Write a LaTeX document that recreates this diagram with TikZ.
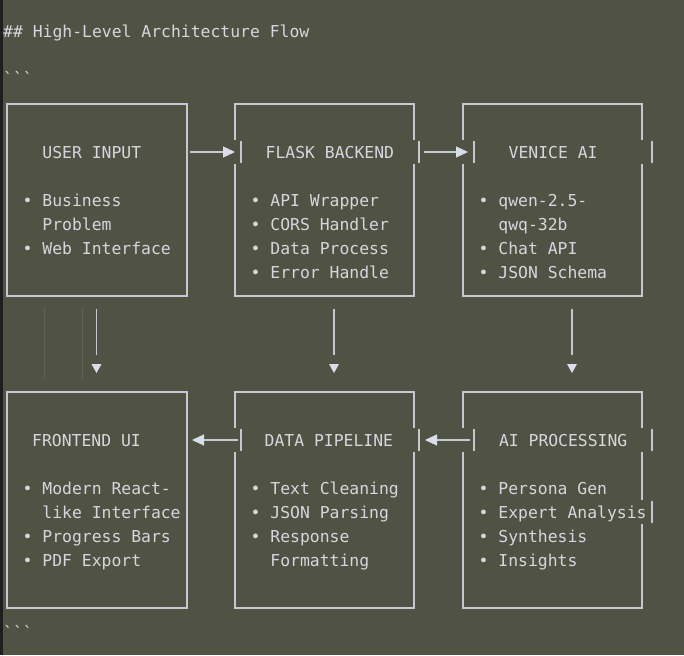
\documentclass[tikz,border=0pt]{standalone}
\usepackage{fontspec}
\setmonofont{DejaVu Sans Mono}
\usetikzlibrary{arrows.meta}
\definecolor{bg}{RGB}{80,82,67}
\definecolor{ink}{RGB}{212,215,222}
\definecolor{rule}{RGB}{196,200,211}
\definecolor{tip}{RGB}{218,222,234}
\definecolor{guide}{RGB}{96,98,84}
\definecolor{gutter}{RGB}{30,30,30}

\begin{document}
\begin{tikzpicture}[x=1pt,y=-1pt,
	txt/.style={anchor=base west,inner sep=0pt,text=ink,font=\ttfamily\fontsize{16.4}{24}\selectfont},
	wire/.style={draw=rule,line width=1.1pt},
	flow/.style={draw=rule,line width=1.1pt,-{Triangle[length=12pt,width=11pt,color=tip]}}]
	\useasboundingbox (0,0) rectangle (684,655);
	\fill[bg] (0,0) rectangle (684,655);
	\fill[gutter] (0,0) rectangle (3,655);

	\node[txt] (head) at (3,38) {\#\# High-Level Architecture Flow};
	\node[txt] (open) at (3,85) {\symbol{96}\symbol{96}\symbol{96}};
	\node[txt] (close) at (3,638) {\symbol{96}\symbol{96}\symbol{96}};

	% top row
	\draw[wire] (7,104) rectangle (187,296);
	\draw[wire] (235,140)--(235,104)--(414,104)--(414,140) (235,164)--(235,296)--(414,296)--(414,164) (241,141)--(241,163) (419,141)--(419,163);
	\draw[wire] (463,140)--(463,104)--(642,104)--(642,140) (463,164)--(463,296)--(642,296)--(642,164) (474,141)--(474,163) (652,141)--(652,163);

	\node[txt] (user) at (42.2,158) {USER INPUT};
	\node[txt] (u1) at (22.5,206) {• Business};
	\node[txt] (u2) at (42.2,230) {Problem};
	\node[txt] (u3) at (22.5,254) {• Web Interface};

	\node[txt] (flask) at (265.5,158) {FLASK BACKEND};
	\node[txt] (f1) at (250.5,206) {• API Wrapper};
	\node[txt] (f2) at (250.5,230) {• CORS Handler};
	\node[txt] (f3) at (250.5,254) {• Data Process};
	\node[txt] (f4) at (250.5,278) {• Error Handle};

	\node[txt] (venice) at (508.5,158) {VENICE AI};
	\node[txt] (v1) at (478.5,206) {• qwen-2.5-};
	\node[txt] (v2) at (498.2,230) {qwq-32b};
	\node[txt] (v3) at (478.5,254) {• Chat API};
	\node[txt] (v4) at (478.5,278) {• JSON Schema};

	% bottom row
	\draw[wire] (7,392) rectangle (187,608);
	\draw[wire] (235,428)--(235,392)--(414,392)--(414,428) (235,452)--(235,608)--(414,608)--(414,452) (241,429)--(241,451) (419,429)--(419,451);
	\draw[wire] (463,428)--(463,392)--(642,392)--(642,428) (463,452)--(463,608)--(642,608)--(642,524) (642,500)--(642,452) (474,429)--(474,451) (652,429)--(652,451) (652,501)--(652,523);

	\node[txt] (front) at (32,446) {FRONTEND UI};
	\node[txt] (p1) at (22.5,494) {• Modern React-};
	\node[txt] (p2) at (42.2,518) {like Interface};
	\node[txt] (p3) at (22.5,542) {• Progress Bars};
	\node[txt] (p4) at (22.5,566) {• PDF Export};

	\node[txt] (pipe) at (264.5,446) {DATA PIPELINE};
	\node[txt] (d1) at (250.5,494) {• Text Cleaning};
	\node[txt] (d2) at (250.5,518) {• JSON Parsing};
	\node[txt] (d3) at (250.5,542) {• Response};
	\node[txt] (d4) at (270.2,566) {Formatting};

	\node[txt] (aiproc) at (498.8,446) {AI PROCESSING};
	\node[txt] (a1) at (478.5,494) {• Persona Gen};
	\node[txt] (a2) at (478.5,518) {• Expert Analysis};
	\node[txt] (a3) at (478.5,542) {• Synthesis};
	\node[txt] (a4) at (478.5,566) {• Insights};

	% arrow ends
	\coordinate (UF) at (190,152);  \coordinate (FU) at (235,152);
	\coordinate (FV) at (424,152);  \coordinate (VF) at (468,152);
	\coordinate (DP) at (238,440);  \coordinate (PD) at (192,440);
	\coordinate (AD) at (470,440);  \coordinate (DA) at (425,440);
	\coordinate (U) at (96.5,309);  \coordinate (P) at (96.5,373);
	\coordinate (F) at (334,309);   \coordinate (D) at (334,373);
	\coordinate (V) at (572,309);   \coordinate (A) at (572,373);

	\draw[flow] (UF)--(FU);
	\draw[flow] (FV)--(VF);
	\draw[flow] (DP)--(PD);
	\draw[flow] (AD)--(DA);
	% down arrows: stem, gap, then head
	\draw[wire] (U)--([yshift=18pt]P) (F)--([yshift=18pt]D) (V)--([yshift=18pt]A);
	\fill[tip] (P)--++(-5,-9)--++(10,0)--cycle (D)--++(-5,-9)--++(10,0)--cycle (A)--++(-5,-9)--++(10,0)--cycle;

	% faint indent guides
	\draw[guide,line width=0.8pt] (44,308)--(44,379) (82.5,308)--(82.5,379);
\end{tikzpicture}
\end{document}
